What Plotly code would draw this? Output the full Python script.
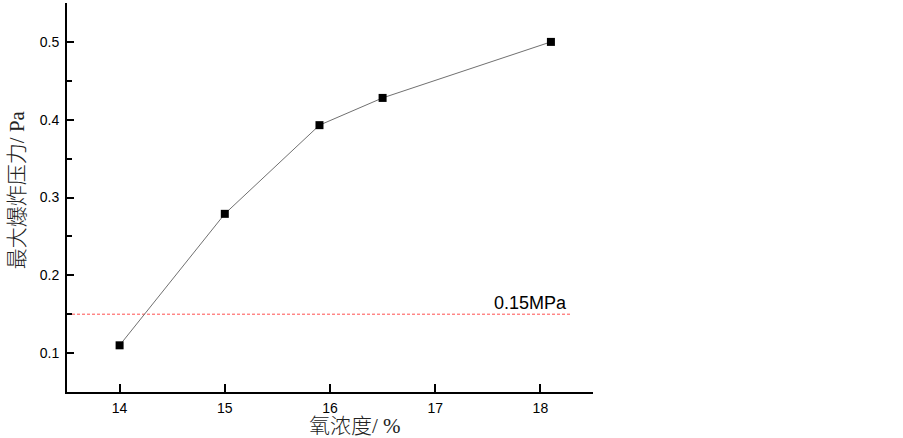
import plotly.graph_objects as go

oxygen = [14.0, 15.0, 15.9, 16.5, 18.1]
pressure = [0.11, 0.279, 0.393, 0.428, 0.50]
ref_x = [13.5, 18.3]
ref_y = [0.15, 0.15]
ref_label = "0.15MPa"
x_ticks = [14, 15, 16, 17, 18]
y_ticks = [0.1, 0.2, 0.3, 0.4, 0.5]

fig = go.Figure()
fig.add_trace(go.Scatter(
    x=ref_x, y=ref_y, mode="lines",
    line=dict(color="rgba(255,60,60,0.9)", width=1, dash="3px,2px"),
    showlegend=False, hoverinfo="skip"))
fig.add_trace(go.Scatter(
    x=oxygen, y=pressure, mode="lines+markers",
    line=dict(color="#707070", width=1),
    marker=dict(symbol="square", size=8, color="black"),
    showlegend=False))

fig.add_annotation(x=17.91, y=0.165, xref="x", yref="y", text=ref_label,
                   showarrow=False, xanchor="center", yanchor="middle",
                   font=dict(family="Liberation Sans, Arial", size=18, color="black"))
title_font = dict(family="Liberation Serif, Noto Sans CJK SC", size=21, color="#222", weight=300)
fig.add_annotation(x=0.5475, y=-0.088, xref="paper", yref="paper", text="氧浓度/ %",
                   showarrow=False, xanchor="center", yanchor="middle", font=title_font)
fig.add_annotation(x=-0.095, y=0.519, xref="paper", yref="paper", text="最大爆炸压力/ Pa",
                   showarrow=False, xanchor="center", yanchor="middle", textangle=-90,
                   font=title_font)

axis_font = dict(family="Liberation Sans, Arial", size=14, color="black")
fig.update_xaxes(range=[13.5, 18.5], tickvals=x_ticks, ticktext=[str(v) for v in x_ticks],
                 ticks="inside", ticklen=8, tickwidth=1.5, tickcolor="black",
                 ticklabelstandoff=2,
                 showline=True, linecolor="black", linewidth=2, showgrid=False,
                 zeroline=False, tickfont=axis_font, mirror=False)
fig.update_yaxes(range=[0.05, 0.55], tickvals=y_ticks, ticktext=[f"{v:.1f}" for v in y_ticks],
                 ticks="inside", ticklen=7, tickwidth=1.5, tickcolor="black",
                 ticklabelstandoff=3,
                 minor=dict(tickvals=[0.05, 0.15, 0.25, 0.35, 0.45, 0.55], ticks="inside",
                            ticklen=5, tickwidth=1.5, tickcolor="black"),
                 showline=True, linecolor="black", linewidth=2, showgrid=False,
                 zeroline=False, tickfont=axis_font, mirror=False)

fig.update_layout(width=903, height=438, plot_bgcolor="white", paper_bgcolor="white",
                  margin=dict(l=67, r=310, t=3, b=46, autoexpand=False))
fig.write_html("out.html", config={"displayModeBar": False},
               post_script="document.body.style.margin='0';")
